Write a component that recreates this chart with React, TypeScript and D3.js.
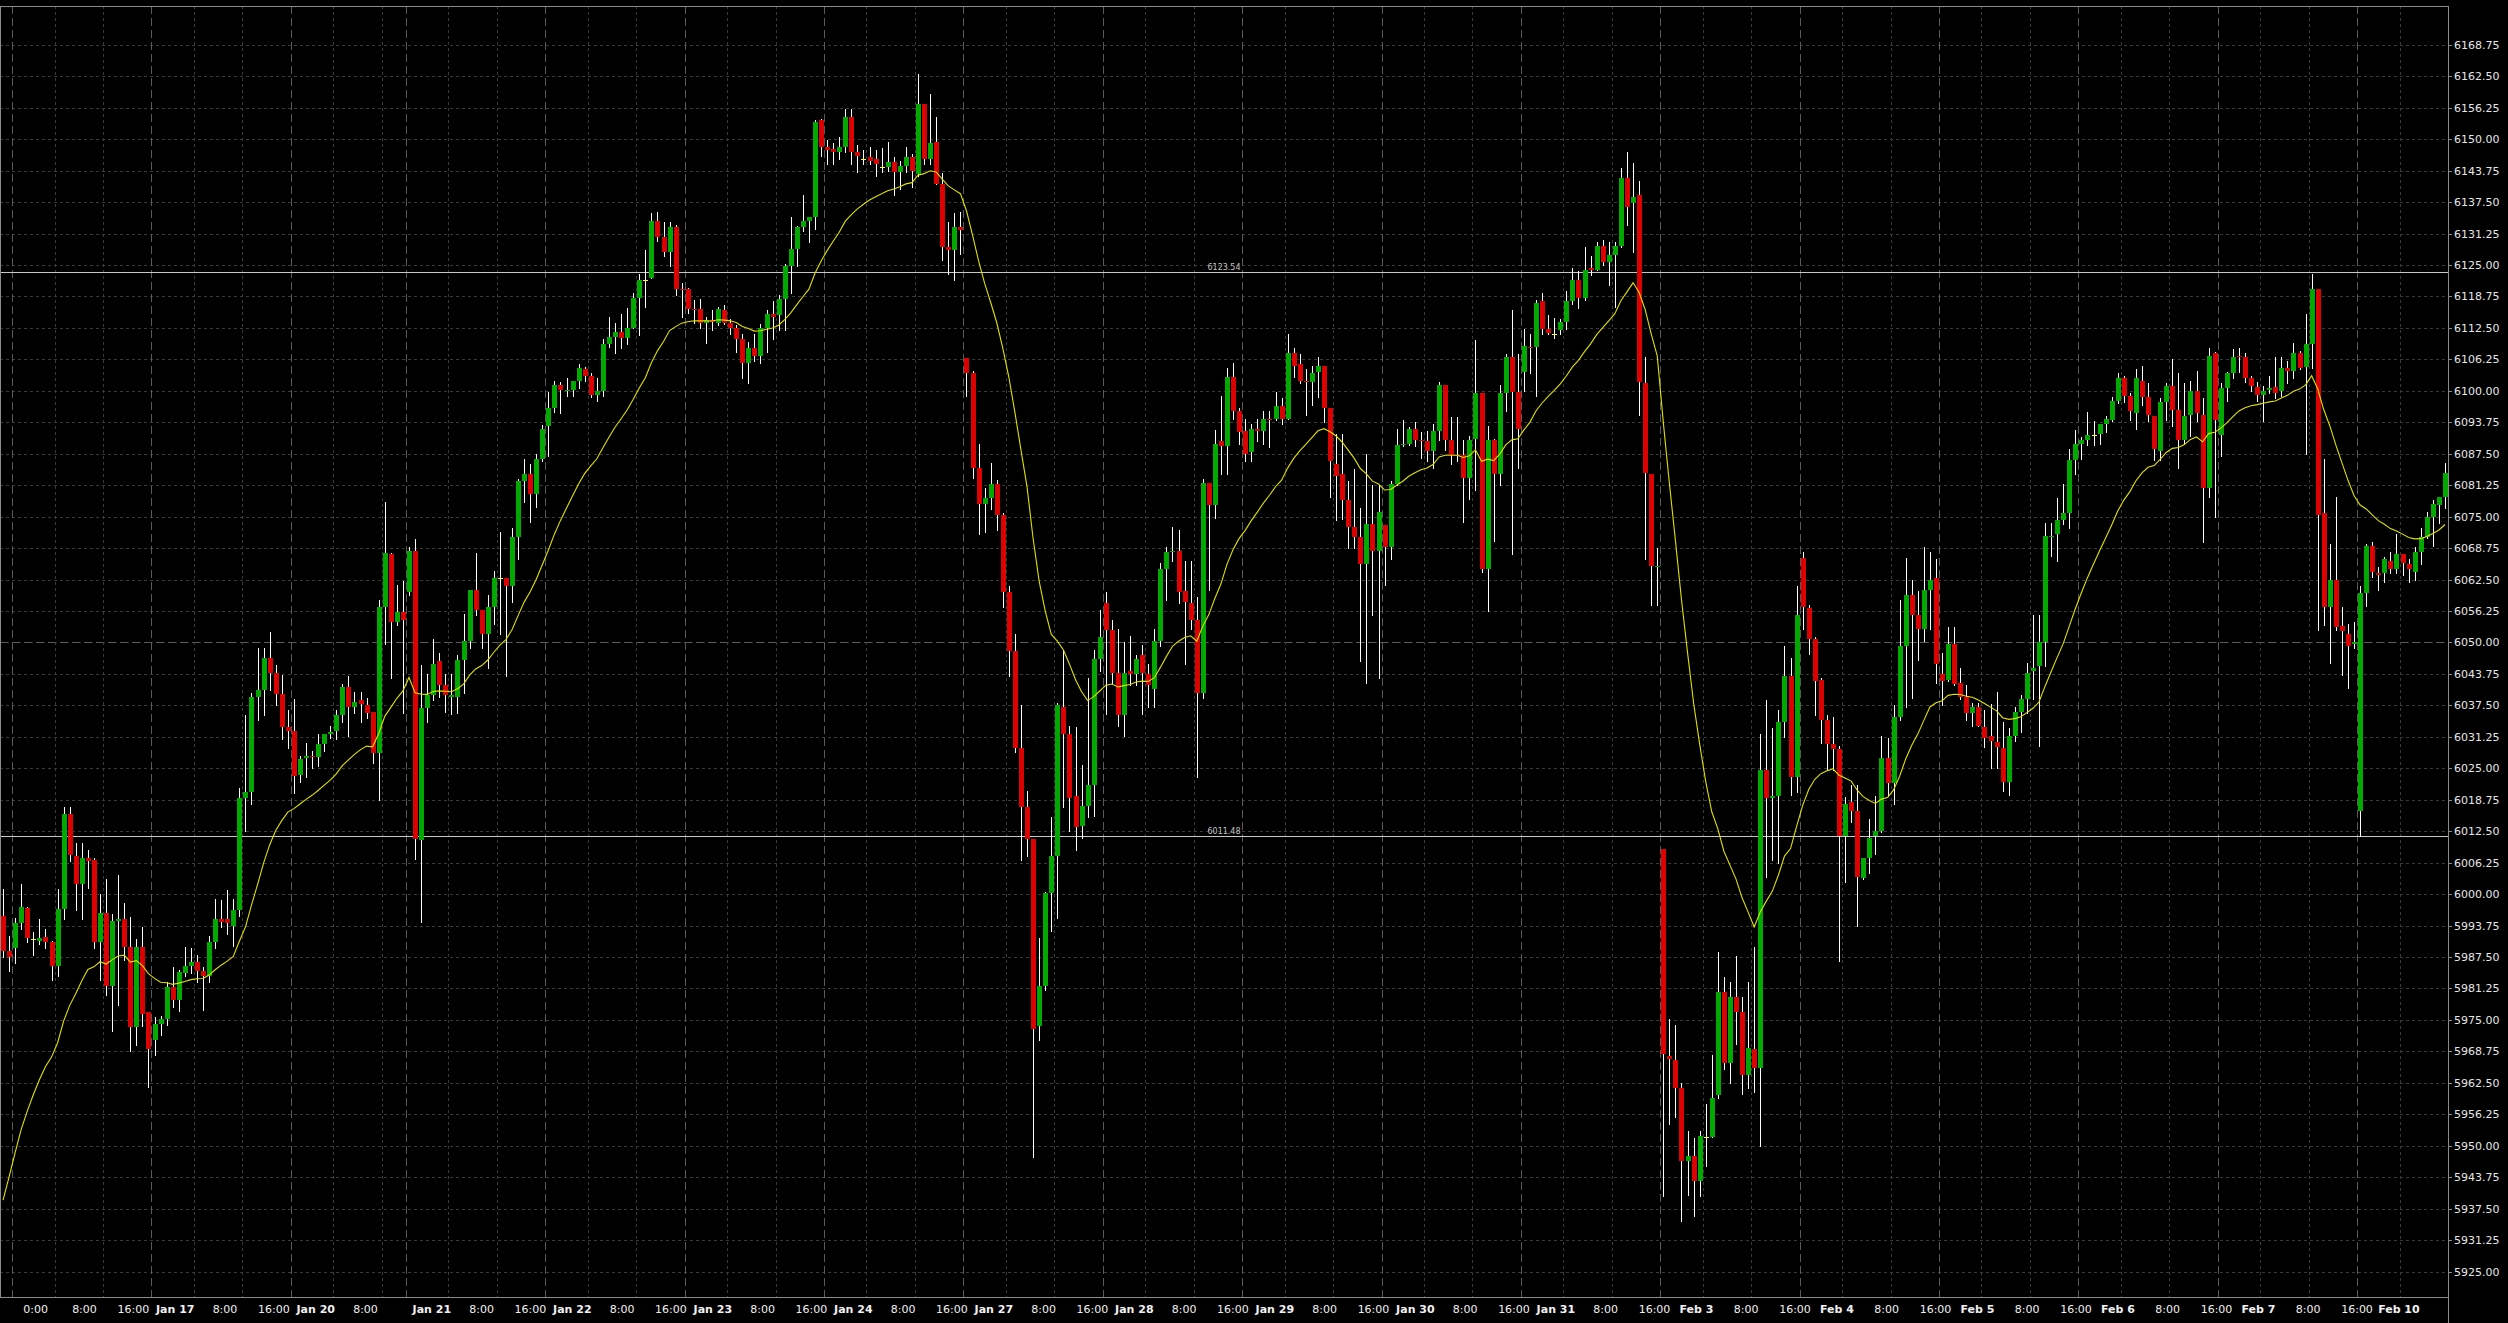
import React from 'react';
import * as d3 from 'd3';

// ---------- DATA (hourly bars) ----------
const opens = [
  5995.75, 5988.75, 5989.25, 5994.25, 5997.25, 5991, 5990.75, 5991.5, 5990.5, 5985.75,
  5997, 6016, 6007.5, 6002, 6007.25, 6006.75, 5990.5, 5996.25, 5981.75, 5994.75,
  5995, 5989.5, 5973.5, 5989.5, 5976.5, 5971, 5974.25, 5975.25, 5981.5, 5979,
  5984.25, 5985.75, 5986.5, 5984.75, 5983.75, 5990.5, 5995, 5995, 5993.75, 5996.75,
  6019, 6020.25, 6039.25, 6040.5, 6047, 6044, 6039.75, 6033.25, 6032.5, 6023.75,
  6027, 6027.5, 6027.25, 6029.75, 6031.75, 6032.5, 6035.5, 6041.25, 6037.25, 6038.5,
  6037.5, 6036.25, 6028, 6057, 6067.5, 6054, 6056, 6060, 6068.25, 6010.75,
  6037, 6039.5, 6046.25, 6041.5, 6039.25, 6039.25, 6046.5, 6050.25, 6060.5, 6056.5,
  6051.75, 6057, 6062.75, 6062.75, 6061.25, 6071, 6082, 6083.5, 6079.5, 6086.5,
  6093, 6096.5, 6101.25, 6100, 6100.25, 6102, 6104.25, 6103, 6099.25, 6100,
  6109.25, 6110.75, 6111.75, 6110.5, 6112.5, 6118.5, 6122, 6122.5, 6133.75, 6130.5,
  6127.5, 6132.5, 6120.25, 6120.25, 6116.25, 6116.25, 6113.5, 6114, 6113.5, 6116,
  6113.5, 6112.5, 6110.25, 6105.5, 6108.5, 6107, 6112.5, 6115.25, 6115, 6118.25,
  6124.75, 6128.25, 6132.5, 6133.75, 6134.5, 6153.75, 6148.5, 6148, 6147.5, 6148.5,
  6154.5, 6147.5, 6146, 6146.5, 6146, 6144.5, 6144.5, 6145.5, 6143.5, 6144.75,
  6146.5, 6143, 6157, 6146, 6149.5, 6141, 6128.5, 6128, 6132.5, 6106.5,
  6103.5, 6084.75, 6077.5, 6078.75, 6081.5, 6075.25, 6060, 6048.25, 6029, 6017.25,
  6011, 5973.75, 5981.75, 6000.25, 6007.5, 6037.25, 6031.75, 6019.5, 6013.5, 6017.5,
  6021.75, 6046.75, 6057.75, 6052.5, 6044, 6035.5, 6044.25, 6043.75, 6047.5, 6043.75,
  6040.75, 6050.25, 6064.5, 6068, 6068.25, 6060.25, 6057.75, 6054.5, 6040, 6081.75,
  6077.25, 6090, 6089, 6102.75, 6096, 6092, 6087.75, 6092.5, 6092, 6094.5,
  6094.5, 6097, 6094.5, 6107.5, 6105.25, 6102, 6101.75, 6103.75, 6105, 6096.5,
  6085.5, 6083.5, 6078.25, 6073, 6071, 6065.5, 6073.5, 6068.25, 6073.25, 6069,
  6081.5, 6089.25, 6089.5, 6092.5, 6090.25, 6090, 6088, 6092, 6101.25, 6090.25,
  6087.25, 6087.25, 6082.75, 6090.5, 6099.5, 6064.5, 6090.25, 6083.5, 6099.5, 6106.75,
  6099.75, 6103.75, 6108.75, 6108.75, 6117.75, 6112.25, 6111.25, 6112, 6113.75, 6117.75,
  6122, 6118.5, 6124.5, 6124, 6128.75, 6125.5, 6127, 6128.75, 6142.25, 6137.25,
  6139, 6101.5, 6083.5, 6065, 6009, 5967.75, 5967, 5961.5, 5947, 5948,
  5943, 5951.75, 5951.75, 5960, 5980.5, 5966.5, 5979.5, 5976.5, 5964, 5969.25,
  5965.5, 6024.75, 6019, 6019.5, 6034.25, 6043.25, 6023.25, 6066.75, 6056.75, 6050.75,
  6042.5, 6034.5, 6029.75, 6028.75, 6011.5, 6018.25, 6016.5, 6003.25, 6007.25, 6011.5,
  6012.5, 6027, 6022, 6035.25, 6049.25, 6059.5, 6055.5, 6052.75, 6060.5, 6062.75,
  6043.75, 6042.5, 6049.75, 6042, 6039.25, 6036, 6037.25, 6033.25, 6031.5, 6030.25,
  6029, 6022.25, 6031.5, 6036.25, 6038.75, 6044.25, 6045.25, 6050, 6071, 6071.5,
  6074.25, 6075.75, 6086.25, 6089.5, 6090.25, 6091.25, 6091.5, 6093.5, 6094.25, 6098,
  6102.5, 6099, 6095.5, 6102, 6098.75, 6095, 6088, 6097.75, 6101, 6096.25,
  6090.25, 6095.25, 6100, 6095.25, 6080.75, 6107.5, 6091.25, 6100.5, 6103.5, 6107,
  6106.75, 6102.5, 6100.75, 6099.25, 6100.25, 6100.75, 6100, 6104.5, 6104, 6107.5,
  6104.75, 6109.25, 6120.25, 6075.75, 6057, 6062.5, 6053.25, 6051.75, 6049.75, 6016.5,
  6059.75, 6069.25, 6063.75, 6063.75, 6066.25, 6064.5, 6067.5, 6065.5, 6064, 6068,
  6071, 6075, 6077.25, 6079,
];

const highs = [
  6001, 5991.75, 5995.25, 6002, 5997.5, 5992.5, 5995, 5993, 5990.75, 6001,
  6017.25, 6017.25, 6010.25, 6010.25, 6008.75, 6007.25, 6000, 6003, 5996, 6003.75,
  5998.25, 5995.5, 5991, 5993.5, 5976.5, 5975.5, 5975.75, 5982.5, 5985.5, 5985,
  5989.5, 5989.25, 5988, 5985.5, 5991.75, 5999, 5998.75, 6000.75, 5999, 6021,
  6035.5, 6040, 6049, 6049, 6052, 6045.5, 6043.5, 6036.5, 6038.75, 6027.5,
  6030, 6028.5, 6031.75, 6031.75, 6033.5, 6036.5, 6041.75, 6043.25, 6040.25, 6040.25,
  6039, 6036.25, 6058.5, 6078, 6067.75, 6061.5, 6062.25, 6069, 6070.5, 6045.5,
  6043.75, 6050.75, 6048, 6043.75, 6043.75, 6047.5, 6055.75, 6060.5, 6067.75, 6056.5,
  6059.5, 6064.25, 6072, 6062.75, 6072.75, 6082.5, 6086.5, 6085.5, 6087.5, 6093.25,
  6099.75, 6102, 6101.75, 6102.5, 6102, 6105.25, 6104.75, 6103.5, 6102.5, 6110.25,
  6114.75, 6113.5, 6115.25, 6116.5, 6119.5, 6123.25, 6128, 6135.25, 6135.5, 6133.5,
  6133.5, 6133, 6121.5, 6120.5, 6118, 6118.25, 6114.75, 6116, 6116.75, 6117,
  6114.25, 6113, 6111.25, 6109.75, 6111.25, 6113.25, 6116, 6117.75, 6119, 6125.25,
  6134.5, 6132.75, 6139, 6134.5, 6153.75, 6154, 6149.75, 6149.25, 6150.5, 6156,
  6156, 6148.75, 6147.75, 6148.5, 6147.75, 6148.25, 6149.5, 6146.5, 6145.75, 6148.5,
  6147, 6163, 6157, 6159, 6154.5, 6143.25, 6133.5, 6135.25, 6135.5, 6106.5,
  6104, 6089.5, 6080.75, 6085.75, 6082.25, 6075.75, 6061.25, 6051.75, 6037.5, 6020.5,
  6011, 5991.25, 6000.5, 6015.25, 6038, 6048.5, 6033.5, 6033.25, 6025.75, 6043,
  6048.5, 6056.5, 6060, 6054.5, 6052.75, 6050, 6051.25, 6047.5, 6049.5, 6045.75,
  6052.75, 6065.75, 6069, 6073, 6072.25, 6066.25, 6066.25, 6059, 6082.5, 6081.75,
  6092.25, 6099, 6104.5, 6105.5, 6096.5, 6094.5, 6093.5, 6094.5, 6096, 6096,
  6099.75, 6098.5, 6111.25, 6108.5, 6107.25, 6104.25, 6105, 6106.75, 6105, 6096.5,
  6091.5, 6091.5, 6082, 6084.5, 6076.75, 6087.5, 6081.25, 6081.25, 6073.25, 6082,
  6092.5, 6094.25, 6092.75, 6093.75, 6091.75, 6092, 6093.5, 6101.75, 6101.25, 6094.75,
  6094.75, 6090.25, 6091, 6110, 6099.5, 6093, 6090.5, 6101.25, 6107.25, 6116,
  6107.25, 6112.25, 6111.25, 6118, 6119.5, 6115, 6114.5, 6114.25, 6119.75, 6124.5,
  6123.75, 6128.5, 6126.75, 6129.5, 6130, 6129.5, 6129.5, 6144.25, 6147.5, 6145.25,
  6141.75, 6106.75, 6083.5, 6068.75, 6009, 5975.25, 5974, 5962.5, 5953, 5951.5,
  5953, 5958.25, 5968, 5988.5, 5983.5, 5982.5, 5987.75, 5979.5, 5982.5, 5989.5,
  6031.75, 6038.5, 6033, 6036.5, 6049.25, 6047, 6061.25, 6068, 6057.5, 6051,
  6043, 6035.5, 6035.25, 6029.5, 6019.25, 6021.75, 6021.75, 6007.25, 6015, 6019.5,
  6031.5, 6031, 6037.5, 6058.5, 6066.75, 6062.5, 6060.25, 6069, 6068, 6066.5,
  6048, 6053, 6053, 6045, 6041.5, 6038, 6038, 6036.5, 6037.75, 6040.25,
  6034.25, 6033, 6037.25, 6039.5, 6046, 6055.5, 6055.5, 6073.75, 6073.75, 6078.75,
  6081.5, 6088.5, 6092.25, 6090.75, 6095.75, 6094, 6093.5, 6095, 6098.75, 6103.5,
  6103, 6099.5, 6104.25, 6105, 6101.5, 6095, 6098.5, 6101.5, 6106.25, 6103.5,
  6101.5, 6102, 6104, 6098.5, 6108.5, 6107.75, 6101.5, 6103.75, 6108.25, 6108.5,
  6107.5, 6103, 6101.75, 6101, 6103, 6106.75, 6106.75, 6106, 6109.5, 6108,
  6115.25, 6123.25, 6120.25, 6086.5, 6069.5, 6079, 6057, 6053.75, 6054, 6061.25,
  6069.5, 6070, 6065, 6067, 6068, 6071.5, 6067.5, 6066.5, 6069, 6072.75,
  6076, 6078.25, 6079, 6085.75,
];

const lows = [
  5987.5, 5984.75, 5986.25, 5993, 5990.5, 5988, 5990, 5989.25, 5983, 5983.75,
  5995, 6006.5, 5996.75, 5995, 6001.25, 5989.25, 5983, 5980, 5972.75, 5978,
  5987, 5968.75, 5970, 5973.75, 5961.75, 5968, 5972, 5974, 5977.5, 5976.75,
  5983.75, 5984.25, 5982.5, 5977, 5982.5, 5989.25, 5993.5, 5992, 5989.75, 5995.75,
  6012.5, 6018, 6034.5, 6035.5, 6040.5, 6037.5, 6030.75, 6029, 6020, 6022.25,
  6023.25, 6025, 6025.5, 6028.5, 6031, 6030.75, 6034.25, 6031.5, 6036, 6034.25,
  6035, 6026, 6018.75, 6049.75, 6043, 6053.5, 6036, 6059.5, 6007, 5994.5,
  6034.25, 6038.5, 6039.25, 6036.25, 6035.75, 6036, 6040, 6049, 6055.5, 6049,
  6045, 6053.75, 6051.75, 6043.25, 6058, 6066.5, 6078, 6074, 6077, 6086,
  6087, 6095.75, 6095.5, 6099, 6099, 6100.5, 6102, 6098.75, 6098, 6099,
  6108.75, 6107.5, 6108.5, 6109.25, 6112.5, 6111, 6116.75, 6122.5, 6129.75, 6126.75,
  6124.75, 6119, 6114.75, 6115.5, 6113.5, 6112.5, 6109.5, 6112, 6113, 6113.25,
  6111.25, 6107.75, 6102.5, 6101.5, 6106, 6105.5, 6107.75, 6110.25, 6112, 6112,
  6119.5, 6124.75, 6131.75, 6129.5, 6132.25, 6146.75, 6145, 6145, 6146, 6147.5,
  6145, 6143.5, 6145, 6145, 6142.75, 6143.5, 6143.75, 6139, 6140, 6143.5,
  6140.5, 6142.75, 6145, 6145, 6141, 6126, 6123.25, 6122, 6127.25, 6099,
  6082.75, 6071.5, 6072, 6076.5, 6072.25, 6057, 6043.25, 6028.25, 6006.75, 6007.5,
  5947.75, 5971, 5981, 5992.75, 5995.25, 6017.25, 6012.5, 6008.75, 6011.25, 6015.25,
  6015.5, 6044.25, 6035.75, 6042, 6033.5, 6031.5, 6041.5, 6041.5, 6035.75, 6037.25,
  6037.25, 6049.25, 6058.5, 6066.25, 6057.75, 6045.75, 6052.75, 6023.25, 6039, 6060.5,
  6074.75, 6083.5, 6083.5, 6094.5, 6089.5, 6086, 6086, 6090, 6089.5, 6088.75,
  6094.25, 6093.5, 6094.5, 6102.75, 6101.5, 6095.25, 6097.25, 6098.75, 6093.75, 6079,
  6074.25, 6074.5, 6068.75, 6068.75, 6046.25, 6042, 6055.5, 6043, 6061.5, 6066.5,
  6081.25, 6089, 6089.25, 6089, 6086.75, 6086, 6084.75, 6090.25, 6088.25, 6085.5,
  6086, 6074, 6078.5, 6080.25, 6064, 6056.25, 6070.25, 6081.25, 6096, 6067.5,
  6084.75, 6100, 6103.5, 6099, 6111.25, 6111.25, 6110.5, 6111.25, 6112.25, 6117.25,
  6116.5, 6118, 6123, 6124, 6125, 6121, 6116.75, 6128.5, 6133, 6127.5,
  6095.25, 6066.5, 6057.5, 6057.5, 5940, 5954.25, 5955.75, 5935, 5940.25, 5936,
  5940, 5946, 5951.75, 5959.5, 5965.25, 5962.5, 5970.25, 5960.25, 5961.5, 5960.75,
  5950, 6003.5, 6006.75, 6006.25, 6031.25, 6019.75, 6020.25, 6052.75, 6047.75, 6035.5,
  6030, 6024.75, 6024.75, 5986.75, 6002.5, 6014.25, 5993.75, 6003, 6004.25, 6008,
  6012.25, 6019.5, 6018, 6034.5, 6037.25, 6039, 6046.5, 6050.25, 6052.75, 6042,
  6037.5, 6042.25, 6041.5, 6038.75, 6034.5, 6033.5, 6033.5, 6029.25, 6025, 6025,
  6020.5, 6019.75, 6030.5, 6032.25, 6036, 6038.75, 6029.5, 6045.25, 6067.25, 6066.25,
  6073.5, 6072.75, 6083.5, 6086.5, 6089.25, 6089.25, 6089.5, 6091.75, 6094, 6097.5,
  6097.75, 6094.25, 6092.5, 6097.25, 6094, 6086.25, 6086.25, 6094.25, 6093, 6084.75,
  6089.5, 6091, 6094, 6070, 6079, 6075, 6087, 6098, 6102.5, 6103.75,
  6101.75, 6100, 6098, 6094, 6099.5, 6098.5, 6099, 6101.5, 6102.5, 6104.25,
  6087.5, 6104.5, 6052.5, 6053.5, 6046, 6052.5, 6043.5, 6041, 6049, 6011.5,
  6057.25, 6063, 6060.5, 6062, 6063.75, 6063.75, 6063.5, 6062, 6062.5, 6065.5,
  6070.75, 6069.25, 6073.75, 6076.75,
];

const closes = [
  5988.75, 5987.5, 5994.25, 5997.5, 5991.25, 5991, 5991.25, 5990.5, 5985.75, 5997,
  6016, 6007.75, 6002, 6007.25, 6006.5, 5990.5, 5996.25, 5981.75, 5994.75, 5995,
  5989.5, 5973.5, 5989.5, 5976.25, 5969.25, 5974.25, 5975.25, 5981.5, 5979, 5984.5,
  5985.75, 5986.5, 5984.75, 5983.75, 5990.5, 5995, 5994.5, 5994.25, 5996.75, 6019,
  6020.25, 6039.25, 6040.5, 6047, 6044, 6039.75, 6033.25, 6032.5, 6023.5, 6026.75,
  6027.5, 6027.25, 6029.75, 6031.75, 6032.25, 6035.5, 6041.25, 6037.25, 6038.25, 6037.75,
  6036, 6028, 6057, 6067.75, 6054, 6056, 6054.5, 6068.25, 6011, 6037,
  6039.5, 6045.75, 6041.5, 6039.5, 6039.5, 6046.5, 6050.25, 6060.5, 6056.5, 6051.75,
  6057, 6062.75, 6062.75, 6061.25, 6071, 6082, 6083.5, 6079.5, 6086.5, 6092.5,
  6096.5, 6101.25, 6100.25, 6100.25, 6102, 6104.5, 6103, 6099.25, 6100, 6109.25,
  6110.75, 6111.75, 6110.5, 6112.5, 6118.5, 6122, 6122, 6133.75, 6130.5, 6127.5,
  6132.5, 6120.25, 6120, 6116.25, 6116, 6113.5, 6114, 6113.75, 6116.25, 6113.5,
  6112.5, 6110.25, 6105.5, 6108.5, 6107, 6112.5, 6115.25, 6114.75, 6118.25, 6124.75,
  6128.25, 6132.5, 6133.75, 6134.5, 6153.5, 6148.5, 6147.75, 6147.5, 6148.5, 6154.5,
  6147.5, 6146.75, 6146, 6145.75, 6145, 6144.5, 6145.5, 6143.5, 6144.75, 6146.5,
  6143.75, 6157, 6146, 6149.25, 6141, 6128.5, 6128, 6132.5, 6132, 6103.5,
  6084.75, 6077.5, 6078.75, 6081.5, 6075.25, 6060, 6048.25, 6029, 6017.25, 6011,
  5973.25, 5981.75, 6000.25, 6007.5, 6037.5, 6031.75, 6019, 6013.25, 6017.5, 6021.75,
  6046.75, 6051, 6052.5, 6044, 6035.5, 6044, 6043.75, 6046.75, 6044, 6041.5,
  6050.25, 6064.5, 6068, 6068.25, 6060, 6058, 6054.5, 6040, 6081.75, 6077.25,
  6089.5, 6089, 6102.75, 6096, 6091.75, 6087.5, 6092.5, 6092, 6094.5, 6094.25,
  6097, 6094.5, 6107.5, 6105, 6102, 6101.75, 6103.5, 6105, 6096.5, 6086,
  6083, 6078.25, 6073, 6071, 6065.5, 6073.5, 6068.25, 6076, 6069, 6081.5,
  6089.25, 6089.5, 6092.5, 6090.25, 6090, 6088, 6092, 6101.25, 6090.25, 6087.25,
  6087, 6082.75, 6090.25, 6099.5, 6064.5, 6090.25, 6083.5, 6099.5, 6106.75, 6099.75,
  6092.5, 6109, 6108.5, 6117.5, 6112.25, 6111.5, 6111.25, 6113.75, 6117.75, 6122,
  6118.5, 6124, 6124, 6128.75, 6125.5, 6127, 6128.75, 6142.25, 6136.5, 6138.5,
  6101.75, 6083.75, 6065.25, 6065.25, 5968.25, 5967.25, 5961.5, 5947, 5948, 5943,
  5952, 5951.75, 5959.5, 5980.5, 5966.5, 5979.5, 5976.5, 5964, 5969.5, 5965.5,
  6024.75, 6019, 6019.5, 6034.25, 6043.25, 6023.25, 6055.5, 6057, 6050.75, 6042.25,
  6034.5, 6029.75, 6028.75, 6011.5, 6018, 6016.5, 6003.5, 6007.25, 6011.25, 6012.5,
  6027, 6022, 6035.25, 6049.25, 6059.5, 6055.5, 6052.75, 6060.5, 6062.5, 6045.75,
  6042.25, 6049.75, 6041.75, 6039.25, 6036, 6037.25, 6033.5, 6031, 6030.5, 6029.25,
  6022.25, 6031.5, 6036.25, 6038.75, 6044, 6045, 6050, 6071.25, 6071.25, 6074.25,
  6075.75, 6086.25, 6089.5, 6090.25, 6091.25, 6091.25, 6093.5, 6094.5, 6098, 6102.5,
  6099, 6096, 6102.5, 6098.75, 6095.25, 6088.5, 6097.75, 6101, 6096.25, 6090.25,
  6095, 6100, 6095.5, 6080.75, 6107, 6094.25, 6100.5, 6103.5, 6106.75, 6106.75,
  6102.5, 6101, 6099.25, 6100, 6100.5, 6099.5, 6104.5, 6104, 6107.5, 6104.5,
  6109.25, 6120.25, 6075.25, 6057, 6062.5, 6053, 6052.25, 6049.25, 6050, 6059.75,
  6069.25, 6064, 6063.5, 6066.5, 6064.5, 6067.5, 6065.75, 6064.5, 6068, 6071,
  6075, 6077.5, 6079, 6083.75,
];

// price axis ticks
const priceTicks = [
  5925, 5931.25, 5937.5, 5943.75, 5950, 5956.25, 5962.5, 5968.75, 5975, 5981.25,
  5987.5, 5993.75, 6000, 6006.25, 6012.5, 6018.75, 6025, 6031.25, 6037.5, 6043.75,
  6050, 6056.25, 6062.5, 6068.75, 6075, 6081.25, 6087.5, 6093.75, 6100, 6106.25,
  6112.5, 6118.75, 6125, 6131.25, 6137.5, 6143.75, 6150, 6156.25, 6162.5, 6168.75,
];

// session starts (bar index) and intraday grid bars
const dayStartBars = [2, 25, 48, 67, 90, 113, 136, 159, 182, 205, 228, 251, 274, 297, 320, 343, 366, 389];
const hourGridBars = [9, 17, 32, 40, 55, 63, 74, 82, 97, 105, 120, 128, 143, 151, 166, 174, 189, 197,
  212, 220, 235, 243, 258, 266, 281, 289, 304, 312, 327, 335, 350, 358, 373, 381, 396];

// time-axis labels: bar index, text
const dateLabelBars = [25, 48, 67, 90, 113, 136, 159, 182, 205, 228, 251, 274, 297, 320, 343, 366, 389];
const dateLabelTexts = ['Jan 17', 'Jan 20', 'Jan 21', 'Jan 22', 'Jan 23', 'Jan 24', 'Jan 27', 'Jan 28',
  'Jan 29', 'Jan 30', 'Jan 31', 'Feb 3', 'Feb 4', 'Feb 5', 'Feb 6', 'Feb 7', 'Feb 10'];
const timeLabelBars = [1, 9, 17, 32, 40, 55, 74, 82, 97, 105, 120, 128, 143, 151, 166, 174, 189, 197,
  212, 220, 235, 243, 258, 266, 281, 289, 304, 312, 327, 335, 350, 358, 373, 381];
const timeLabelTexts = ['0:00', '8:00', '16:00', '8:00', '16:00', '8:00', '8:00', '16:00', '8:00', '16:00',
  '8:00', '16:00', '8:00', '16:00', '8:00', '16:00', '8:00', '16:00', '8:00', '16:00', '8:00', '16:00',
  '8:00', '16:00', '8:00', '16:00', '8:00', '16:00', '8:00', '16:00', '8:00', '16:00', '8:00', '16:00'];

const horizontalLevels = [6123.54, 6011.48];
const roundLevels = [6050];
const emaPeriod = 20;
const emaSeed = 5934;

// ---------- CHART ----------
const W = 2508;
const H = 1323;
const PLOT_W = 2448;
const PLOT_TOP = 6;
const PLOT_BOTTOM = 1297;
const FONT = '"DejaVu Sans", Verdana, sans-serif';

export default function App() {
  const n = closes.length;
  const x = d3.scaleBand<number>().domain(d3.range(n)).range([0, PLOT_W]).padding(0);
  const bw = x.bandwidth();
  const cx = (i: number) => (x(i) as number) + bw / 2;
  const y = d3.scaleLinear().domain([5925, 6168.75]).range([1271.6, 44.8]);
  const labelX = d3.scaleLinear().domain([0, n]).range([22.5, 22.5 + 6.109 * n]);

  const alpha = 2 / (emaPeriod + 1);
  const ema: number[] = [];
  let e = emaSeed;
  closes.forEach((c) => {
    e = e + alpha * (c - e);
    ema.push(e);
  });
  const emaPath = d3
    .line<number>()
    .x((_, i) => cx(i))
    .y((v) => y(v))(ema) as string;

  const px = (v: number) => Math.round(v) + 0.5;

  return (
    <svg
      width={W}
      height={H}
      style={{ position: 'absolute', left: 0, top: 0, display: 'block', background: '#000' }}
    >
      <rect x={0} y={0} width={W} height={H} fill="#000" />
      <defs>
        <clipPath id="plotClip">
          <rect x={0} y={PLOT_TOP} width={PLOT_W} height={PLOT_BOTTOM - PLOT_TOP} />
        </clipPath>
      </defs>

      {/* horizontal grid */}
      <g shapeRendering="crispEdges">
        {priceTicks.map((t) => (
          <line
            key={'hg' + t}
            x1={0}
            x2={PLOT_W}
            y1={px(y(t))}
            y2={px(y(t))}
            stroke="#3a3a3a"
            strokeDasharray="3,3"
          />
        ))}
        {roundLevels.map((t) => (
          <line
            key={'rl' + t}
            x1={0}
            x2={PLOT_W}
            y1={px(y(t))}
            y2={px(y(t))}
            stroke="#5a5a5a"
            strokeDasharray="8,4"
          />
        ))}
        {/* vertical grid */}
        {hourGridBars.map((b) => (
          <line
            key={'vg' + b}
            x1={px(x(b) as number)}
            x2={px(x(b) as number)}
            y1={PLOT_TOP}
            y2={PLOT_BOTTOM}
            stroke="#3a3a3a"
            strokeDasharray="3,3"
          />
        ))}
        {dayStartBars.map((b) => (
          <line
            key={'vd' + b}
            x1={px(x(b) as number)}
            x2={px(x(b) as number)}
            y1={PLOT_TOP}
            y2={PLOT_BOTTOM}
            stroke="#5a5a5a"
            strokeDasharray="8,4"
          />
        ))}
      </g>

      {/* horizontal price levels */}
      <g>
        {horizontalLevels.map((lv) => (
          <g key={'lv' + lv}>
            <line
              x1={0}
              x2={PLOT_W}
              y1={px(y(lv))}
              y2={px(y(lv))}
              stroke="#c8c8c8"
              shapeRendering="crispEdges"
            />
            <text
              x={PLOT_W / 2}
              y={Math.round(y(lv)) - 2}
              fill="#c0c0c0"
              fontSize={8}
              fontFamily={FONT}
              textAnchor="middle"
            >
              {lv.toFixed(2)}
            </text>
          </g>
        ))}
      </g>

      {/* candles */}
      <g clipPath="url(#plotClip)" shapeRendering="crispEdges">
        {closes.map((c, i) => {
          const o = opens[i];
          const bx = Math.round(cx(i)) - 2;
          const yTop = Math.round(y(Math.max(o, c)));
          const yBot = Math.round(y(Math.min(o, c)));
          const isDoji = Math.abs(c - o) < 0.01;
          const color = isDoji ? '#ffff00' : c > o ? '#00a800' : '#dd0000';
          return (
            <g key={'c' + i}>
              <line
                x1={bx + 2.5}
                x2={bx + 2.5}
                y1={Math.round(y(highs[i]))}
                y2={Math.round(y(lows[i])) + 1}
                stroke="#ffffff"
              />
              <rect x={bx} y={yTop} width={5} height={Math.max(1, yBot - yTop)} fill={color} />
            </g>
          );
        })}
      </g>

      {/* EMA */}
      <path d={emaPath} fill="none" stroke="#e0e000" strokeWidth={1.1} clipPath="url(#plotClip)" />

      {/* frame */}
      <g shapeRendering="crispEdges" stroke="#8a8a8a" fill="none">
        <line x1={0.5} x2={0.5} y1={PLOT_TOP} y2={PLOT_BOTTOM} />
        <line x1={0} x2={PLOT_W + 1} y1={PLOT_TOP + 0.5} y2={PLOT_TOP + 0.5} />
        <line x1={PLOT_W + 0.5} x2={PLOT_W + 0.5} y1={PLOT_TOP} y2={H} />
        <line x1={0} x2={PLOT_W + 1} y1={PLOT_BOTTOM + 0.5} y2={PLOT_BOTTOM + 0.5} />
      </g>

      {/* price axis */}
      <g>
        {priceTicks.map((t) => (
          <g key={'pt' + t}>
            <line
              x1={PLOT_W + 1}
              x2={PLOT_W + 4}
              y1={px(y(t))}
              y2={px(y(t))}
              stroke="#8a8a8a"
              shapeRendering="crispEdges"
            />
            <text
              x={PLOT_W + 6}
              y={y(t) + 4}
              fill="#e6e6e6"
              fontSize={11}
              fontFamily={FONT}
            >
              {t.toFixed(2)}
            </text>
          </g>
        ))}
      </g>

      {/* time axis */}
      <g fontFamily={FONT} fontSize={11} fill="#f0f0f0" textAnchor="middle">
        {timeLabelBars.map((b, k) => (
          <text key={'tl' + k} x={labelX(b) + 7} y={1313}>
            {timeLabelTexts[k]}
          </text>
        ))}
        {dateLabelBars.map((b, k) => (
          <text key={'dl' + k} x={labelX(b)} y={1313} fontWeight="bold">
            {dateLabelTexts[k]}
          </text>
        ))}
      </g>
    </svg>
  );
}
